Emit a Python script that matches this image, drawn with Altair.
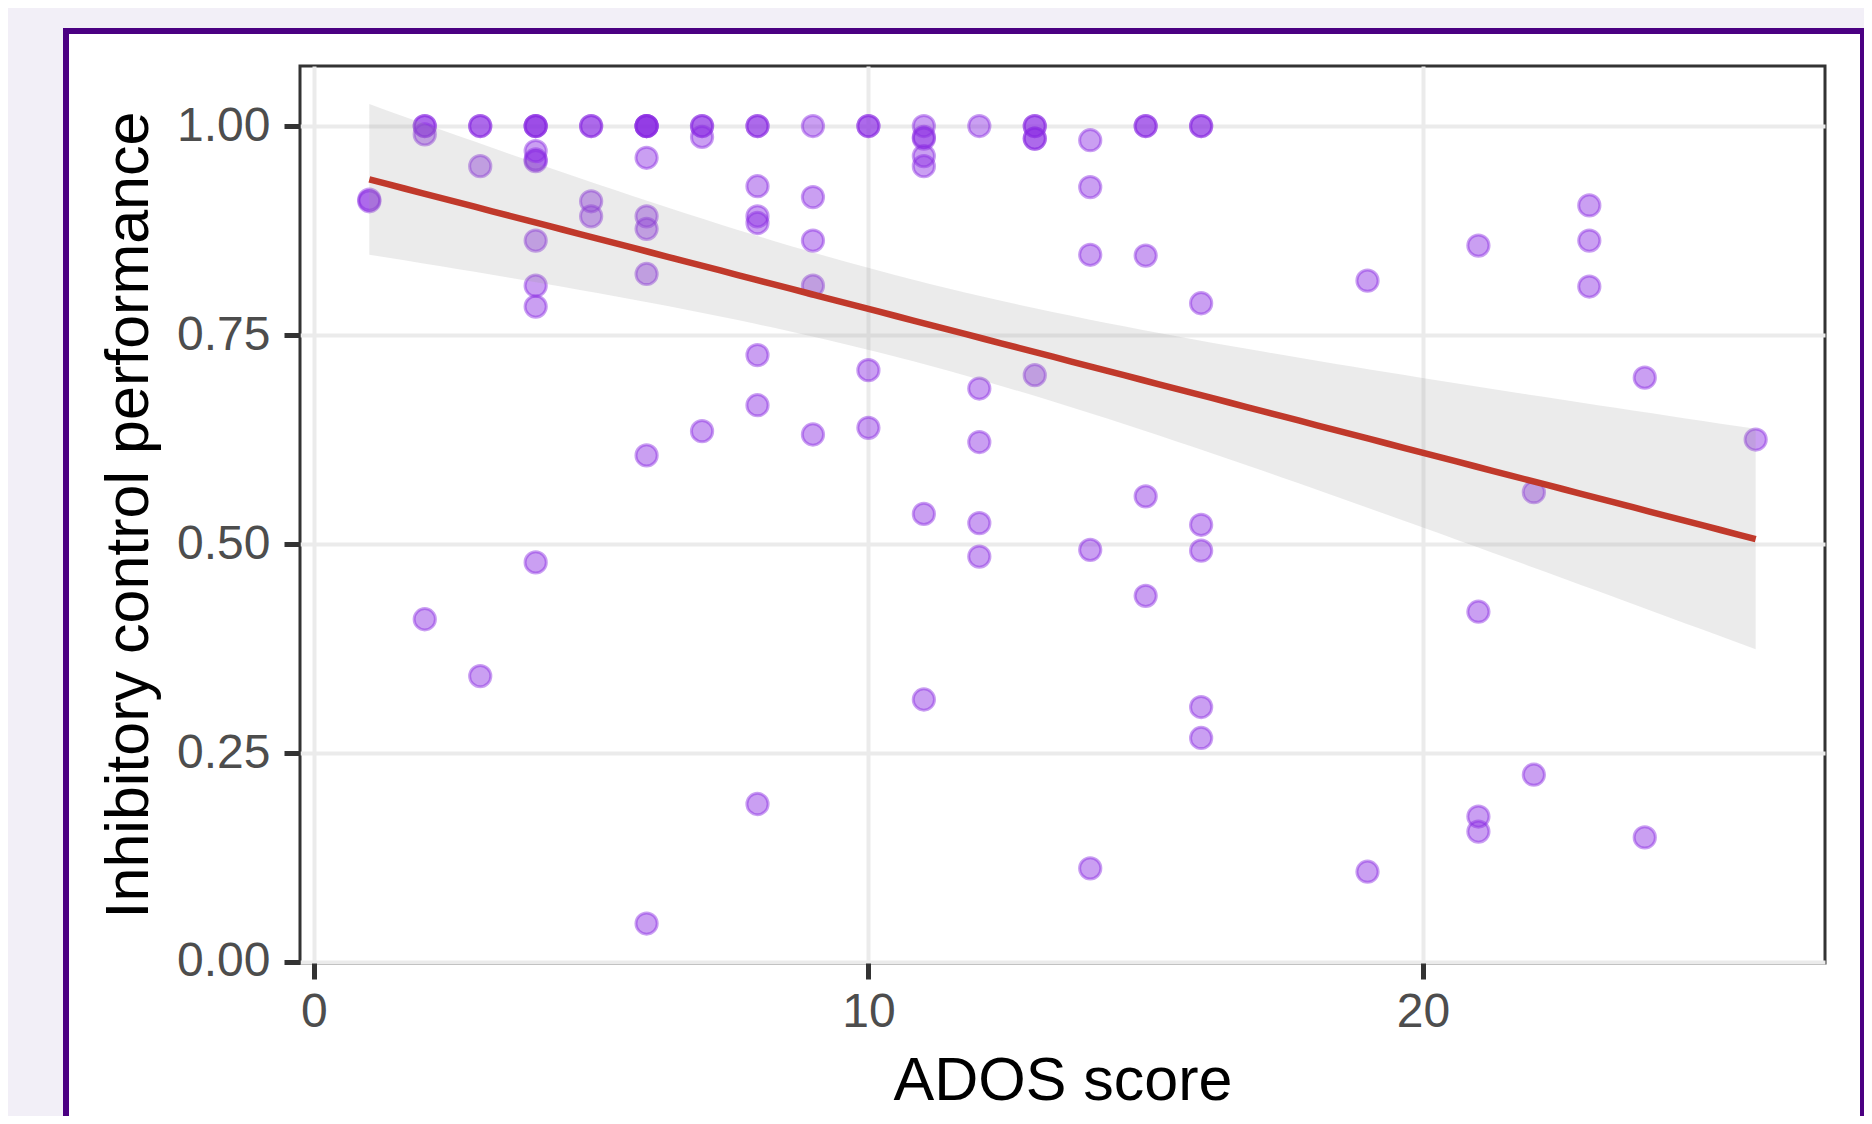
import altair as alt
import numpy as np
import pandas as pd

# ---- data ----
ados_score = (
    [1, 1]
    + [2] * 4
    + [3] * 4
    + [4] * 10
    + [5] * 4
    + [6] * 10
    + [7] * 4
    + [8] * 8
    + [9] * 5
    + [10] * 4
    + [11] * 7
    + [12] * 5
    + [13] * 5
    + [14] * 5
    + [15] * 5
    + [16] * 7
    + [19] * 2
    + [21] * 4
    + [22] * 2
    + [23] * 3
    + [24] * 2
    + [26] * 1
)
inhibitory_control = [
    0.912, 0.910,
    1.0, 1.0, 0.990, 0.410,
    1.0, 1.0, 0.952, 0.342,
    1.0, 1.0, 1.0, 0.970, 0.960, 0.958, 0.863, 0.809, 0.784, 0.478,
    1.0, 1.0, 0.910, 0.892,
    1.0, 1.0, 1.0, 1.0, 0.962, 0.892, 0.877, 0.823, 0.606, 0.046,
    1.0, 1.0, 0.987, 0.635,
    1.0, 1.0, 0.928, 0.892, 0.884, 0.726, 0.666, 0.189,
    1.0, 0.915, 0.863, 0.809, 0.631,
    1.0, 1.0, 0.708, 0.639,
    1.0, 0.987, 0.985, 0.964, 0.952, 0.536, 0.314,
    1.0, 0.686, 0.622, 0.525, 0.485,
    1.0, 1.0, 0.985, 0.985, 0.702,
    0.983, 0.927, 0.846, 0.493, 0.112,
    1.0, 1.0, 0.845, 0.557, 0.438,
    1.0, 1.0, 0.788, 0.523, 0.492, 0.305, 0.268,
    0.815, 0.108,
    0.857, 0.419, 0.174, 0.156,
    0.562, 0.224,
    0.905, 0.863, 0.808,
    0.699, 0.149,
    0.625,
]
x_ticks = [0, 10, 20]
y_ticks = [0.0, 0.25, 0.5, 0.75, 1.0]

df = pd.DataFrame({"ados": ados_score, "icp": inhibitory_control})

# ---- linear fit with 95% confidence band (like geom_smooth(method="lm")) ----
x = np.asarray(ados_score, dtype=float)
y = np.asarray(inhibitory_control, dtype=float)
n = len(x)
slope, intercept = np.polyfit(x, y, 1)
resid = y - (intercept + slope * x)
s = np.sqrt(np.sum(resid ** 2) / (n - 2))
xbar = x.mean()
sxx = np.sum((x - xbar) ** 2)
t_crit = 1.983  # t quantile 0.975, df ~ 101
xs = np.linspace(x.min(), x.max(), 80)
fit = intercept + slope * xs
se = s * np.sqrt(1.0 / n + (xs - xbar) ** 2 / sxx)
fit_df = pd.DataFrame({"ados": xs, "fit": fit, "lo": fit - t_crit * se, "hi": fit + t_crit * se})

FONT = "Liberation Sans"
W, H = 1525, 897

xscale = alt.Scale(domain=[-0.25, 27.25], nice=False, zero=False)
yscale = alt.Scale(domain=[-0.0012, 1.0718], nice=False, zero=False)

xaxis = alt.Axis(
    values=x_ticks, format="d", title="ADOS score", grid=True, domain=False,
    labelFontSize=48, labelColor="#4d4d4d", labelFont=FONT, labelPadding=9,
    tickSize=16, tickWidth=5, tickColor="#333333",
    titleFontSize=61, titleFont=FONT, titleColor="#000000", titleFontWeight="normal",
    titleY=136, titleBaseline="alphabetic",
    gridColor="#ebebeb", gridWidth=4,
)
yaxis = alt.Axis(
    values=y_ticks, format=".2f", title="Inhibitory control performance", grid=True, domain=False,
    labelFontSize=48, labelColor="#4d4d4d", labelFont=FONT, labelPadding=14,
    tickSize=16, tickWidth=5, tickColor="#333333",
    titleFontSize=61, titleFont=FONT, titleColor="#000000", titleFontWeight="normal",
    titleX=-153, titleBaseline="alphabetic", titleAngle=270,
    gridColor="#ebebeb", gridWidth=4,
)

one = pd.DataFrame({"k": [0]})

# lavender surround (thick stroke outside the white card)
lavender = alt.Chart(one).mark_rect(
    fillOpacity=0, stroke="#f2eff7", strokeWidth=200
).encode(
    x=alt.value(-337), x2=alt.value(1666), y=alt.value(-138), y2=alt.value(1300)
)
# purple card border
card = alt.Chart(one).mark_rect(
    fillOpacity=0, stroke="#4b0082", strokeWidth=6
).encode(
    x=alt.value(-234), x2=alt.value(1563), y=alt.value(-35), y2=alt.value(1150)
)

points = alt.Chart(df).mark_circle(
    size=452, fill="#8a2be2", fillOpacity=0.45,
    stroke="#8a2be2", strokeOpacity=0.45, strokeWidth=3,
).encode(
    x=alt.X("ados:Q", scale=xscale, axis=xaxis),
    y=alt.Y("icp:Q", scale=yscale, axis=yaxis),
)

band = alt.Chart(fit_df).mark_area(color="#999999", opacity=0.2).encode(
    x=alt.X("ados:Q", scale=xscale),
    y=alt.Y("lo:Q", scale=yscale),
    y2="hi:Q",
)

line = alt.Chart(fit_df).mark_line(color="#c0392b", strokeWidth=6.5).encode(
    x=alt.X("ados:Q", scale=xscale),
    y=alt.Y("fit:Q", scale=yscale),
)

chart = alt.layer(lavender, card, points, band, line).properties(
    width=W, height=H,
    autosize=alt.AutoSizeParams(type="none"),
    padding={"left": 292, "top": 58, "right": 39, "bottom": 153},
    background="#ffffff",
).configure_view(
    stroke="#333333", strokeWidth=3, fill="#ffffff"
)

chart.save("out.html", embed_options={"renderer": "svg", "actions": False})
